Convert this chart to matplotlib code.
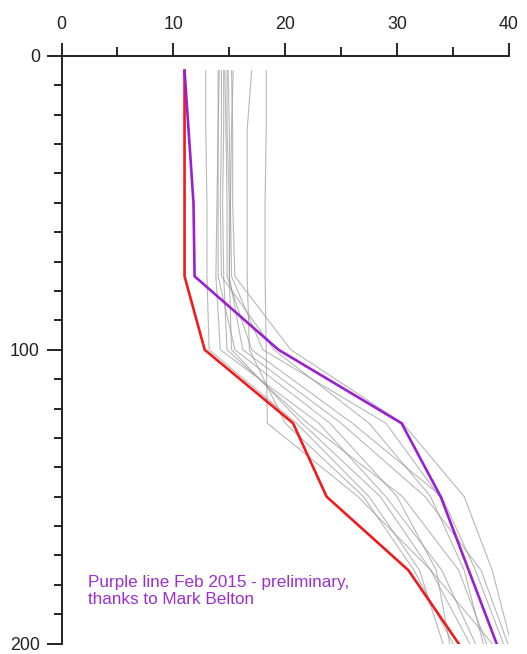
import matplotlib
matplotlib.use("Agg")
import matplotlib.pyplot as plt
from matplotlib.ticker import MultipleLocator
import numpy as np

plt.rcParams['font.family'] = ['Liberation Sans', 'DejaVu Sans']

depths = [5, 25, 50, 75, 100, 125, 150, 175, 200]

red_depth = [5, 75, 100, 125, 150, 175, 200]
red_temp = [11.0, 11.0, 12.8, 20.7, 23.7, 31.0, 35.5]

purple_depth = [5, 50, 75, 100, 125, 150, 175, 200]
purple_temp = [11.0, 11.8, 11.9, 19.4, 30.4, 33.9, 36.4, 38.9]

gray_profiles = [
    [12.9, 12.9, 13.0, 13.0, 13.2, 21.0, 27.5, 32.0, 34.1],
    [14.0, 14.0, 14.0, 14.0, 15.5, 24.0, 30.0, 33.5, 34.7],
    [14.3, 14.3, 14.2, 14.3, 19.0, 27.5, 33.0, 36.0, 37.7],
    [14.5, 14.5, 14.4, 14.5, 14.8, 22.0, 30.5, 35.5, 38.0],
    [14.6, 14.7, 14.8, 14.8, 17.0, 26.0, 34.0, 37.0, 39.5],
    [14.8, 14.8, 15.0, 15.0, 16.2, 25.0, 32.5, 37.5, 39.9],
    [15.2, 15.3, 15.3, 15.5, 20.5, 30.5, 36.0, 38.5, 40.2],
    [15.35, 15.2, 15.1, 15.2, 18.0, 29.0, 33.8, None, None],
    [17.0, 16.6, 16.6, 16.6, 16.8, 20.0, 27.0, 31.5, 35.0],
    [18.3, 18.3, 18.2, 18.2, 18.3, 18.4, 26.5, 33.0, 38.5],
    [14.1, 14.0, 13.9, 13.8, 14.2, 23.0, 29.0, 34.0, 37.0],
    [14.9, 15.0, 15.1, 15.0, 15.2, 21.5, 28.5, 33.0, 36.5],
]

fig = plt.figure(figsize=(5.27, 6.54), dpi=100)
ax = fig.add_axes([0.1167, 0.016, 0.849, 0.8984])

for prof in gray_profiles:
    d = [dd for dd, t in zip(depths, prof) if t is not None]
    t = [tt for tt in prof if tt is not None]
    ax.plot(t, d, color='#9a9a9a', lw=0.8, alpha=0.7, zorder=2)

ax.plot(red_temp, red_depth, color='#ee1c1c', lw=1.9, zorder=3)
ax.plot(purple_temp, purple_depth, color='#9b1fd1', lw=1.9, zorder=4)

ax.text(2.4, 182, "Purple line Feb 2015 - preliminary,\nthanks to Mark Belton",
        color='#9b2fd0', fontsize=12.3, va='center', ha='left', linespacing=1.15)

ax.set_xlim(0, 40)
ax.set_ylim(200, 0)
ax.xaxis.tick_top()
ax.xaxis.set_label_position('top')
ax.spines['right'].set_visible(False)
ax.spines['bottom'].set_visible(False)
for s in ['top', 'left']:
    ax.spines[s].set_linewidth(1.4)
    ax.spines[s].set_color('#222222')

ax.set_xticks([0, 10, 20, 30, 40])
ax.xaxis.set_minor_locator(MultipleLocator(5))
ax.set_yticks([0, 100, 200])
ax.yaxis.set_minor_locator(MultipleLocator(10))

ax.tick_params(axis='x', which='major', direction='out', length=9.5, width=1.4,
               labelsize=12.8, pad=7, color='#222222', labelcolor='#222222')
ax.tick_params(axis='x', which='minor', direction='out', length=6.5, width=1.4,
               color='#222222')
ax.tick_params(axis='y', which='major', direction='out', length=10.5, width=1.4,
               labelsize=12.8, pad=5, color='#222222', labelcolor='#222222')
ax.tick_params(axis='y', which='minor', direction='out', length=5.5, width=1.4,
               color='#222222')
for spine in ax.spines.values():
    spine.set_clip_on(False)

fig.savefig("out.png", dpi=100)
